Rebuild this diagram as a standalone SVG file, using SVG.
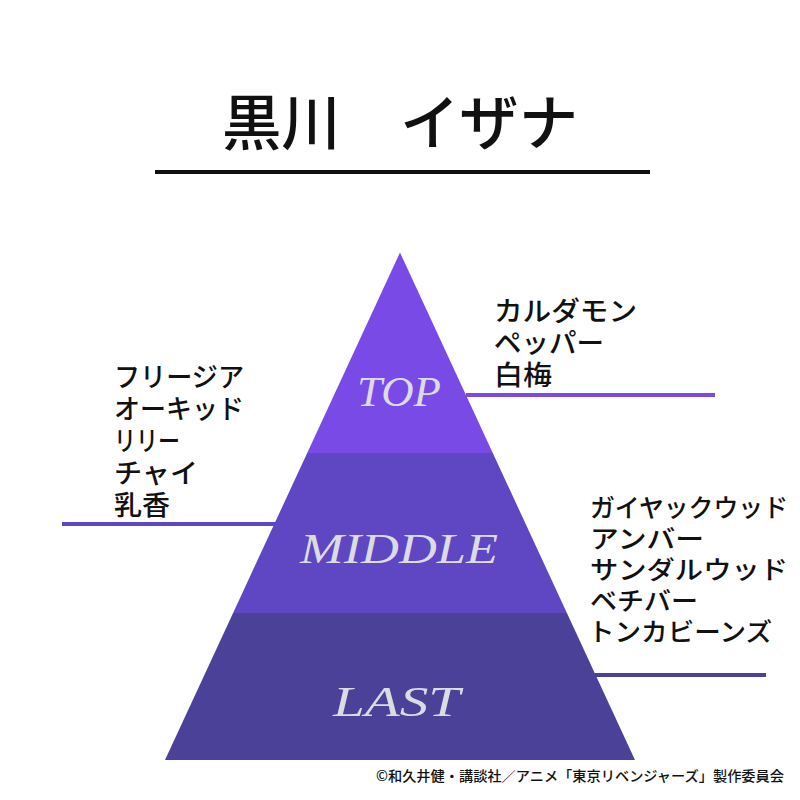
<svg xmlns="http://www.w3.org/2000/svg" width="800" height="800" viewBox="0 0 800 800">
<style>
.jp{font-family:"Noto Sans CJK JP","Noto Sans CJK SC",sans-serif;fill:#111;font-weight:500}
.note{font-size:27px}
.note2{font-size:25.5px}
.lbl{font-family:"Liberation Serif","DejaVu Serif",serif;font-style:italic;fill:#dcdbe4;font-size:42px}
.ln{stroke-width:4;fill:none}
</style>
<rect width="800" height="800" fill="#ffffff"/>
<g id="title">
<text class="jp" x="222" y="145" font-size="60" font-weight="900" textLength="356" lengthAdjust="spacingAndGlyphs">黒川　イザナ</text>
<line x1="155" y1="172" x2="650" y2="172" stroke="#111" stroke-width="4"/>
</g>
<g id="connectors">
<line class="ln" x1="466" y1="395" x2="715" y2="395" stroke="#7a4ae6"/>
<line class="ln" x1="62" y1="524" x2="277" y2="524" stroke="#5f46c2"/>
<line class="ln" x1="595" y1="675" x2="766" y2="675" stroke="#4b4199"/>
</g>
<g id="top">
<polygon points="400,252.5 492.8,453 307.2,453" fill="#7a4ae6"/>
<text class="lbl" x="357" y="406" textLength="84" lengthAdjust="spacingAndGlyphs">TOP</text>
</g>
<g id="middle">
<polygon points="307.2,453 492.8,453 566.9,613 233.1,613" fill="#5f46c2"/>
<text class="lbl" x="300" y="563" textLength="198" lengthAdjust="spacingAndGlyphs">MIDDLE</text>
</g>
<g id="last">
<polygon points="233.1,613 566.9,613 635,760 165,760" fill="#4b4199"/>
<text class="lbl" x="333" y="716" textLength="127" lengthAdjust="spacingAndGlyphs">LAST</text>
</g>
<g id="top-notes">
<text class="jp note"><tspan x="494" y="321" textLength="143" lengthAdjust="spacingAndGlyphs">カルダモン</tspan><tspan x="494" y="353" textLength="110" lengthAdjust="spacingAndGlyphs">ペッパー</tspan><tspan x="494" y="385" textLength="58" lengthAdjust="spacingAndGlyphs">白梅</tspan></text>
</g>
<g id="middle-notes">
<text class="jp note"><tspan x="114" y="387" textLength="130" lengthAdjust="spacingAndGlyphs">フリージア</tspan><tspan x="114" y="419" textLength="130" lengthAdjust="spacingAndGlyphs">オーキッド</tspan><tspan x="114" y="451" textLength="66" lengthAdjust="spacingAndGlyphs">リリー</tspan><tspan x="114" y="483" textLength="84" lengthAdjust="spacingAndGlyphs">チャイ</tspan><tspan x="114" y="515" textLength="56" lengthAdjust="spacingAndGlyphs">乳香</tspan></text>
</g>
<g id="last-notes">
<text class="jp note2"><tspan x="590" y="517" textLength="198" lengthAdjust="spacingAndGlyphs">ガイヤックウッド</tspan><tspan x="590" y="548" textLength="114" lengthAdjust="spacingAndGlyphs">アンバー</tspan><tspan x="590" y="579" textLength="198" lengthAdjust="spacingAndGlyphs">サンダルウッド</tspan><tspan x="590" y="610" textLength="108" lengthAdjust="spacingAndGlyphs">ベチバー</tspan><tspan x="588" y="641" textLength="184" lengthAdjust="spacingAndGlyphs">トンカビーンズ</tspan></text>
</g>
<g id="copyright">
<text class="jp" x="376" y="781" font-size="14" font-weight="400" textLength="408" lengthAdjust="spacingAndGlyphs">©和久井健・講談社／アニメ「東京リベンジャーズ」製作委員会</text>
</g>
</svg>
